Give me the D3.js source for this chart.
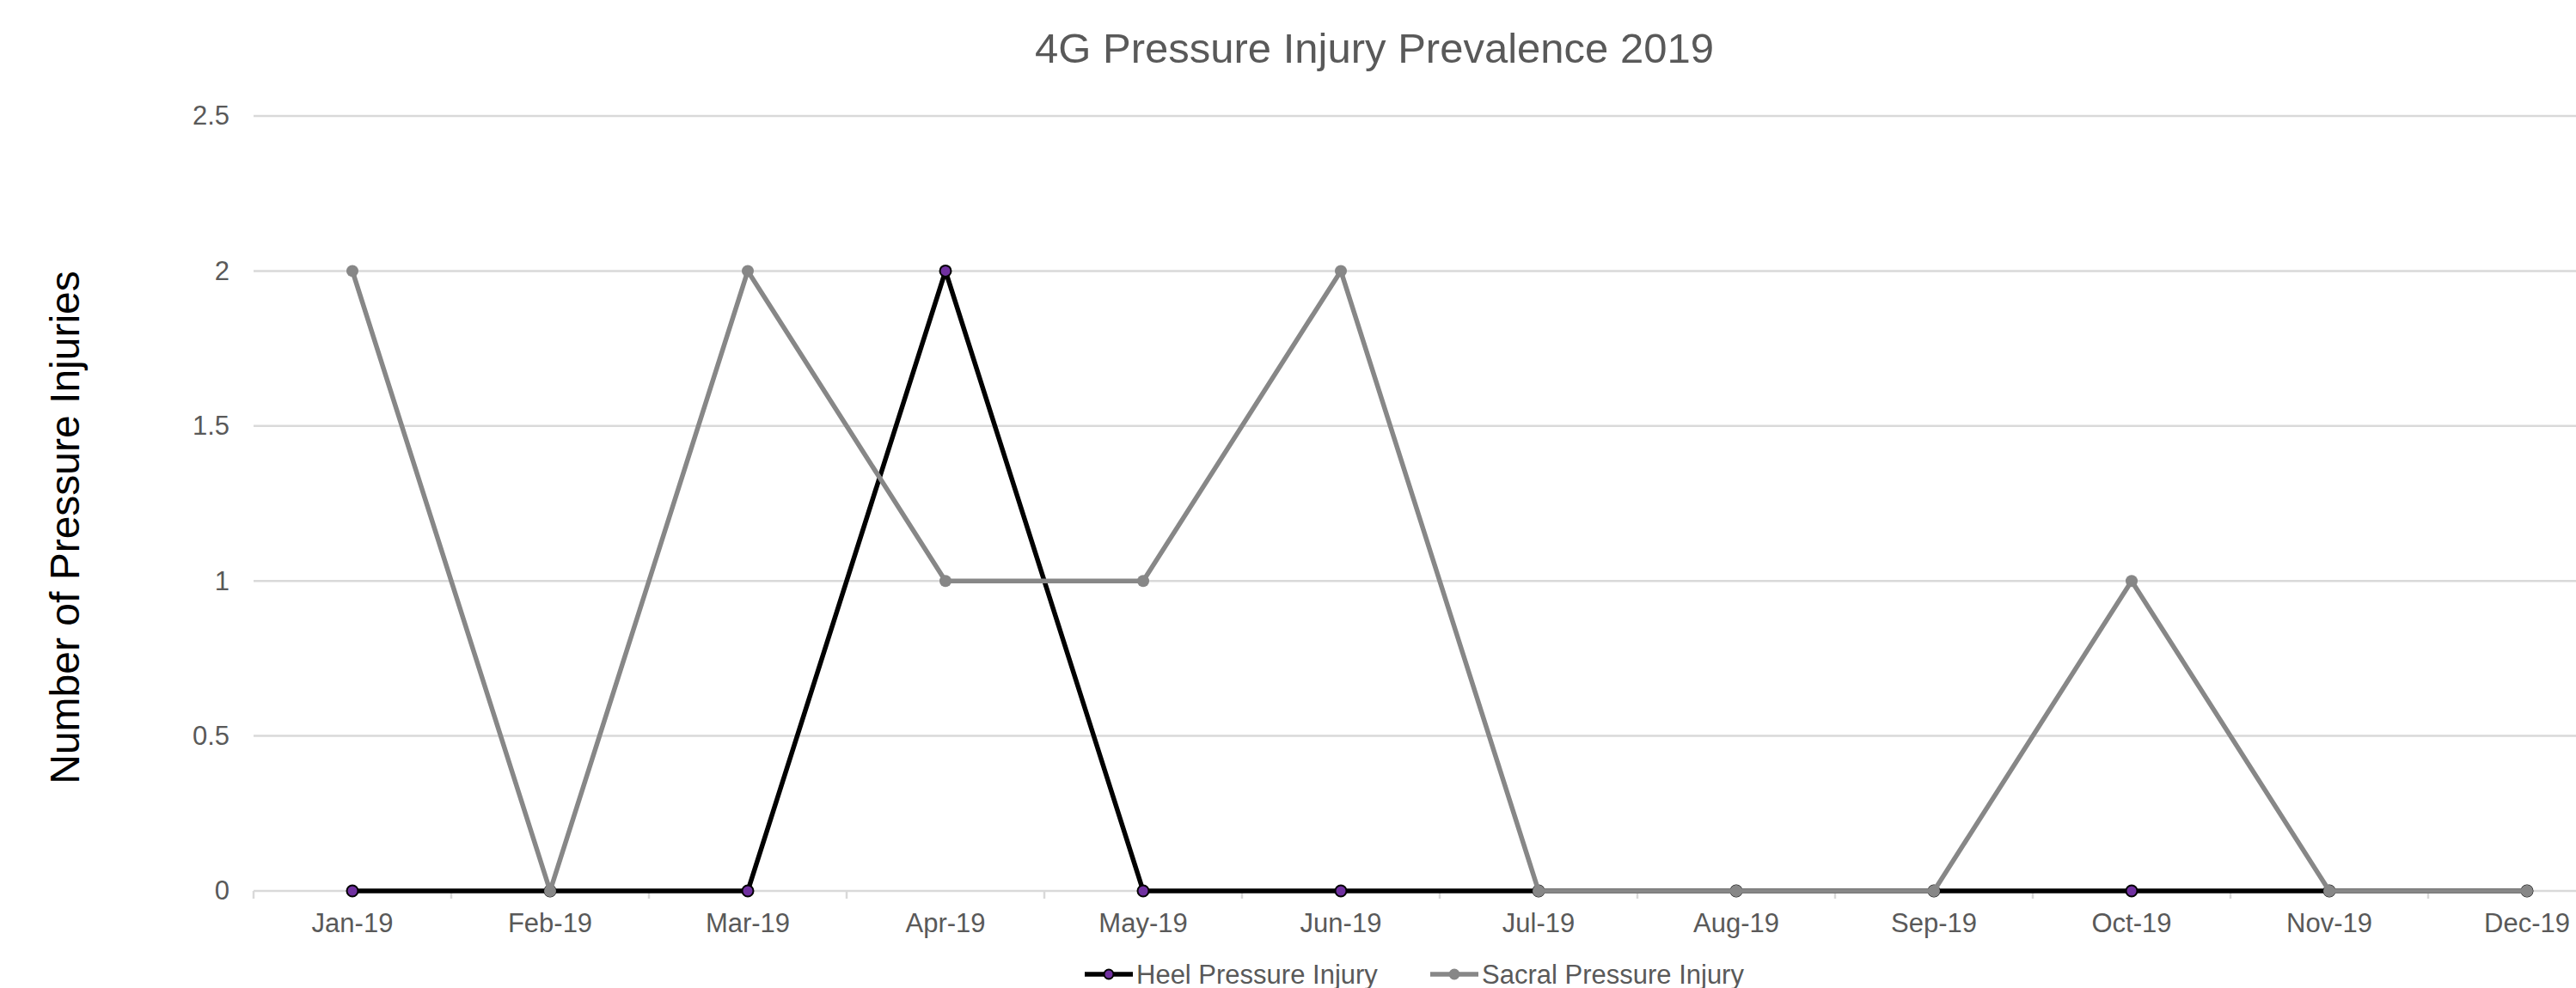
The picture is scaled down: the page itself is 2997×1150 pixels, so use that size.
<!DOCTYPE html>
<html><head><meta charset="utf-8">
<script src="https://cdn.jsdelivr.net/npm/d3@7"></script>
<style>html,body{margin:0;padding:0;background:#fff;overflow:hidden}</style>
</head><body>
<svg id="chart" width="2997" height="1150"></svg>
<script>
const categories = ["Jan-19","Feb-19","Mar-19","Apr-19","May-19","Jun-19","Jul-19","Aug-19","Sep-19","Oct-19","Nov-19","Dec-19"];
const heelValues = [0,0,0,2,0,0,0,0,0,0,0,0];
const sacralValues = [2,0,2,1,1,2,0,0,0,1,0,0];
const yTicks = [0,0.5,1,1.5,2,2.5];
const seriesNames = ["Heel Pressure Injury","Sacral Pressure Injury"];
const titleText = "4G Pressure Injury Prevalence 2019";
const yTitle = "Number of Pressure Injuries";

(function(){
const svg = d3.select("#chart");
const font = "'Liberation Sans', Arial, sans-serif";
const pLeft = 295, pRight = 3055, pTop = 135, pBottom = 1037;

const x = d3.scaleBand().domain(categories).range([pLeft, pRight]).padding(0);
const y = d3.scaleLinear().domain([0, 2.5]).range([pBottom, pTop]);
const cx = d => x(d) + x.bandwidth() / 2;

// gridlines
svg.append("g").selectAll("line").data(yTicks).join("line")
  .attr("x1", pLeft).attr("x2", pRight)
  .attr("y1", d => y(d)).attr("y2", d => y(d))
  .attr("stroke", "#d9d9d9").attr("stroke-width", 2.5);

// y tick labels
const yAxis = d3.axisLeft(y).tickValues(yTicks).tickSize(0).tickPadding(28).tickFormat(d => String(d));
const yg = svg.append("g").attr("transform", `translate(${pLeft},0)`).call(yAxis);
yg.select(".domain").remove();
yg.selectAll("text").attr("font-family", font).attr("font-size", 31).attr("fill", "#595959");

// x axis ticks at band boundaries
const bounds = categories.map(c => x(c)).concat([pRight]);
svg.append("g").selectAll("line").data(bounds).join("line")
  .attr("x1", d => d).attr("x2", d => d)
  .attr("y1", pBottom).attr("y2", pBottom + 9)
  .attr("stroke", "#d9d9d9").attr("stroke-width", 2.5);
const xAxis = d3.axisBottom(x).tickSize(0).tickPadding(26);
const xg = svg.append("g").attr("transform", `translate(0,${pBottom})`).call(xAxis);
xg.select(".domain").remove();
xg.selectAll("text").attr("font-family", font).attr("font-size", 31).attr("fill", "#595959");

// lines
const line = d3.line().x((d, i) => cx(categories[i])).y(d => y(d));
svg.append("path").datum(heelValues).attr("d", line)
  .attr("fill", "none").attr("stroke", "#000").attr("stroke-width", 5.5).attr("stroke-linejoin", "round");
svg.append("g").selectAll("circle").data(heelValues).join("circle")
  .attr("cx", (d, i) => cx(categories[i])).attr("cy", d => y(d)).attr("r", 6.5)
  .attr("fill", "#7030a0").attr("stroke", "#000").attr("stroke-width", 2);

svg.append("path").datum(sacralValues).attr("d", line)
  .attr("fill", "none").attr("stroke", "#878787").attr("stroke-width", 5.5).attr("stroke-linejoin", "round");
svg.append("g").selectAll("circle").data(sacralValues).join("circle")
  .attr("cx", (d, i) => cx(categories[i])).attr("cy", d => y(d)).attr("r", 7)
  .attr("fill", "#878787");

// title
svg.append("text").attr("x", 1599).attr("y", 73).attr("text-anchor", "middle")
  .attr("font-family", font).attr("font-size", 49).attr("fill", "#595959").text(titleText);

// y title
svg.append("text").attr("transform", "translate(92,614) rotate(-90)").attr("text-anchor", "middle")
  .attr("font-family", font).attr("font-size", 48).attr("fill", "#000").text(yTitle);

// legend
const legend = [
  {name: seriesNames[0], x0: 1262, stroke: "#000", fill: "#7030a0"},
  {name: seriesNames[1], x0: 1664, stroke: "#878787", fill: "#878787"}
];
const lg = svg.append("g");
legend.forEach(l => {
  lg.append("line").attr("x1", l.x0).attr("x2", l.x0 + 56).attr("y1", 1134).attr("y2", 1134)
    .attr("stroke", l.stroke).attr("stroke-width", 5.5);
  lg.append("circle").attr("cx", l.x0 + 28).attr("cy", 1134).attr("r", 5.5)
    .attr("fill", l.fill).attr("stroke", l.stroke).attr("stroke-width", 2);
  lg.append("text").attr("x", l.x0 + 60).attr("y", 1145).attr("font-family", font)
    .attr("font-size", 31).attr("fill", "#595959").text(l.name);
});
})();
</script>
</body></html>
